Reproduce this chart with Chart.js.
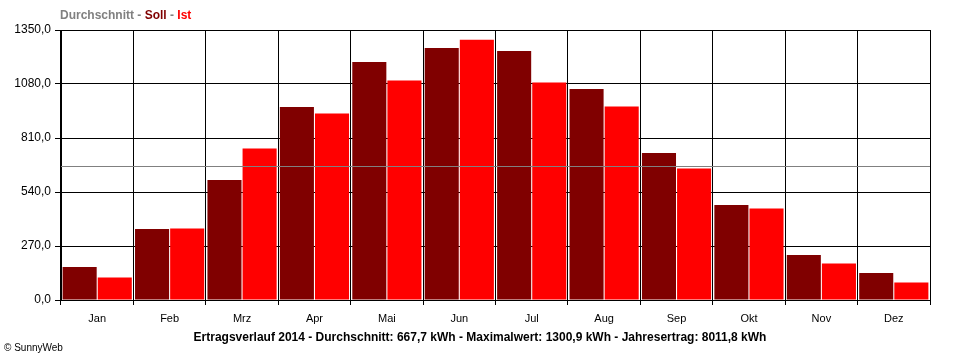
<!DOCTYPE html>
<html>
<head>
<meta charset="utf-8">
<script src="https://cdn.jsdelivr.net/npm/chart.js@4"></script>
<style>
    body { margin: 0; background: #fff; }
    #wrap { position: relative; width: 960px; height: 360px; }
    #legend { position: absolute; left: 60px; top: 8px; font: bold 12px "Liberation Sans", Arial, sans-serif; color: #808080; }
    #legend .soll { color: #800000; }
    #legend .ist { color: #ff0000; }
    #title { position: absolute; left: 0; top: 330px; width: 960px; text-align: center; line-height: 14px; font: bold 12px "Liberation Sans", Arial, sans-serif; color: #000; }
    #copy { position: absolute; left: 4px; top: 342px; font: 10px "Liberation Sans", Arial, sans-serif; color: #000; }
</style>
</head>
<body>
<div id="wrap">
    <canvas id="ertrag-chart" width="960" height="360"></canvas>
    <div id="legend">Durchschnitt - <span class="soll">Soll</span> - <span class="ist">Ist</span></div>
    <div id="title"></div>
    <div id="copy">© SunnyWeb</div>
</div>
<script>
// monthly values in kWh
let months = ["Jan", "Feb", "Mrz", "Apr", "Mai", "Jun", "Jul", "Aug", "Sep", "Okt", "Nov", "Dez"];
let soll = [165, 355, 600, 965, 1190, 1260, 1245, 1055, 735, 475, 225, 135];
let ist = [112, 358, 758, 933, 1098, 1300.9, 1088, 968, 658, 458, 183, 88];
let durchschnitt = 667.7;
let titleText = "Ertragsverlauf 2014 - Durchschnitt: 667,7 kWh - Maximalwert: 1300,9 kWh - Jahresertrag: 8011,8 kWh";

document.addEventListener("DOMContentLoaded", function () {
    let ctx = document.getElementById("ertrag-chart").getContext("2d");
    document.getElementById("title").textContent = titleText;

    // gray average line on top of the bars
    let avgLine = {
        id: "avgLine",
        afterDatasetsDraw(chart) {
            let y = Math.round(chart.scales.y.getPixelForValue(durchschnitt)) + 0.5;
            let area = chart.chartArea;
            ctx.save();
            ctx.strokeStyle = "#808080";
            ctx.lineWidth = 1;
            ctx.beginPath();
            ctx.moveTo(area.left, y);
            ctx.lineTo(area.right, y);
            ctx.stroke();
            ctx.restore();
        }
    };

    new Chart(ctx, {
        type: "bar",
        data: {
            labels: months,
            datasets: [
                { label: "Soll", data: soll, backgroundColor: "#800000" },
                { label: "Ist", data: ist, backgroundColor: "#ff0000" }
            ]
        },
        options: {
            responsive: false,
            animation: false,
            layout: { padding: { left: 0, right: 30, top: 30, bottom: 32 } },
            datasets: {
                bar: { categoryPercentage: 0.97, barPercentage: 0.97, borderWidth: 0 }
            },
            plugins: {
                legend: { display: false },
                tooltip: { enabled: false }
            },
            scales: {
                x: {
                    afterFit: function (scale) { scale.height = 28; },
                    grid: { color: "#000", lineWidth: 1, tickLength: 5, offset: true },
                    border: { color: "#000", width: 1 },
                    ticks: { color: "#000", padding: 7, font: { family: "Liberation Sans", size: 11 } }
                },
                y: {
                    min: 0,
                    max: 1350,
                    afterFit: function (scale) { scale.width = 61; },
                    grid: { color: "#000", lineWidth: 1, tickLength: 6 },
                    border: { color: "#000", width: 1 },
                    ticks: {
                        stepSize: 270,
                        color: "#000",
                        padding: 4,
                        font: { family: "Liberation Sans", size: 12 },
                        callback: function (v) { return v.toFixed(1).replace(".", ","); }
                    }
                }
            }
        },
        plugins: [avgLine]
    });
});
</script>
</body>
</html>
